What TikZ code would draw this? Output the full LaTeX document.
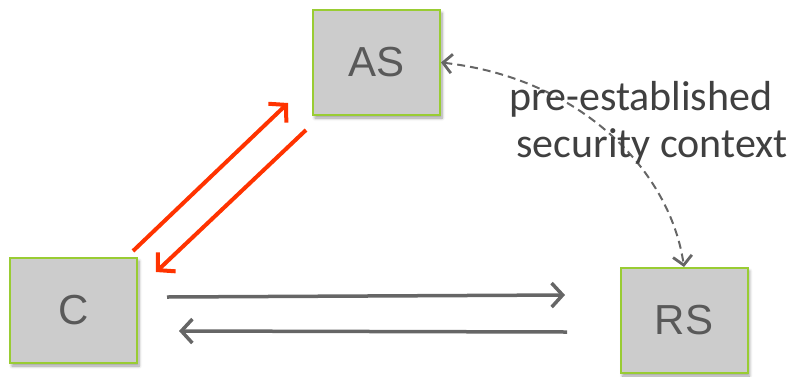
\documentclass[tikz,border=0pt]{standalone}
\usepackage{fontspec}
\setmainfont{Liberation Sans}
\newfontfamily\labelfont{Carlito}
\usetikzlibrary{arrows.meta,shadows.blur}

\definecolor{boxfill}{HTML}{CCCCCC}
\definecolor{boxedge}{HTML}{99CC33}
\definecolor{boxtext}{HTML}{595959}
\definecolor{flowred}{HTML}{FF3300}
\definecolor{flowgray}{HTML}{666666}
\definecolor{labeltext}{HTML}{404040}

\tikzset{
  party/.style={draw=boxedge, line width=2pt, fill=boxfill,
    minimum width=127pt, minimum height=105pt, inner sep=0pt,
    text=boxtext, font=\fontsize{42}{48}\selectfont,
    blur shadow={shadow xshift=2pt, shadow yshift=-3pt,
      shadow blur radius=3pt, shadow blur steps=6, shadow opacity=40}},
  redflow/.style={draw=flowred, line width=4pt,
    -{Straight Barb[length=12pt, width=26pt, line width=4pt]}},
  grayflow/.style={draw=flowgray, line width=3.5pt,
    -{Straight Barb[length=11pt, width=24pt, line width=3.5pt]}},
  trust/.style={draw=flowgray, line width=2pt, dash pattern=on 8pt off 5pt,
    {Straight Barb[length=9pt, width=19pt, line width=2.8pt]}-{Straight Barb[length=9pt, width=19pt, line width=2.8pt]}},
}

\begin{document}
\begin{tikzpicture}[x=1pt, y=-1pt]
  \useasboundingbox (0,0) rectangle (795,376);

  % the three parties
  \node[party] (as) at (376.5,62.5) {AS};
  \node[party] (c)  at (73.5,310.5) {C};
  \node[party] (rs) at (684,320.5) {RS};

  % ends of the message arrows
  \coordinate (c2as-a) at (133,251);
  \coordinate (c2as-b) at (288,103);
  \coordinate (as2c-a) at (306,130);
  \coordinate (as2c-b) at (156,272);
  \coordinate (c2rs-a) at (167,297);
  \coordinate (c2rs-b) at (565,295);
  \coordinate (rs2c-a) at (567,332);
  \coordinate (rs2c-b) at (179,331);

  % client <-> authorization server
  \draw[redflow] (c2as-a) -- (c2as-b);
  \draw[redflow] (as2c-a) -- (as2c-b);

  % client <-> resource server
  \draw[grayflow] (c2rs-a) -- (c2rs-b);
  \draw[grayflow] (rs2c-a) -- (rs2c-b);

  % trust relation between AS and RS
  \draw[trust] (as.east) .. controls (580,78) and (670,170) .. (rs.north);

  % base anchor sits on the last line's baseline
  \node[anchor=base west, align=left, text=labeltext,
        font=\labelfont\fontsize{42}{47}\selectfont, inner sep=0pt]
    (ctx) at (509,157) {pre-established\\\hspace*{7pt}security context};
\end{tikzpicture}
\end{document}
